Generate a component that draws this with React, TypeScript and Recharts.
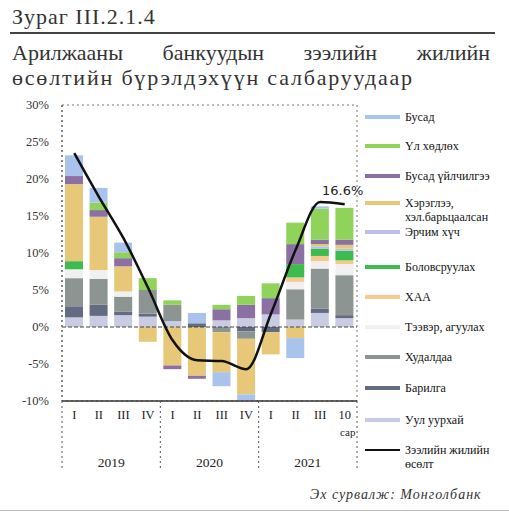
import React from 'react';
import { ComposedChart, Bar, Line, XAxis, YAxis, ReferenceLine, ReferenceArea, LabelList } from 'recharts';

// quarters and years on the x axis
const QUARTERS = ['I', 'II', 'III', 'IV', 'I', 'II', 'III', 'IV', 'I', 'II', 'III', '10 сар'];
const YEARS = ['2019', '2019', '2019', '2019', '2020', '2020', '2020', '2020', '2021', '2021', '2021', '2021'];

// total loan growth, %
const GROWTH = [23.5, 17.6, 12.0, 5.3, -1.8, -4.5, -4.6, -5.7, 1.8, 10.4, 16.9, 16.6];

// sector contributions, percentage points (stack order bottom -> top)
const MINING = [1.3, 1.5, 1.6, 1.4, 0.8, 0, 0.9, 1.2, 1.7, 1.0, 1.9, 1.2];
const CONSTRUCTION = [1.5, 1.5, 0.5, 0.4, 0, 0.5, 0, -0.6, -0.7, 0, 0.6, 0.4];
const TRADE = [3.8, 3.5, 2.0, 3.2, 2.2, 0, -0.7, -1.0, 0, 4.1, 5.4, 5.4];
const TRANSPORT = [1.2, 1.2, 0.7, 0, 0, 0, 0, 0, 0, 1.0, 1.0, 1.5];
const AGRI = [0, 0, 0, 0, 0, 0, 0, 0, 0, 0.6, 0.7, 0.5];
const MANUF = [1.1, 0, 0, 0, 0, 0, 0, 0, 0, 1.8, 1.0, 1.3];
const ENERGY = [0, 0, 0, 0, 0, 0, 0, 0, 0, 0, 0.3, 0.3];
const CONSUMER = [10.4, 7.2, 3.4, -2.0, -5.2, -6.6, -5.4, -7.5, -3.0, -1.5, 0.3, 0.5];
const OTHER_SERV = [1.1, 0.9, 1.1, 0, -0.5, -0.4, 1.5, 1.8, 2.2, 2.7, 0.6, 0.7];
const REAL_ESTATE = [0, 1.0, 0.8, 1.6, 0.6, 0, 0.6, 1.2, 2.0, 2.9, 4.2, 4.3];
const OTHER = [2.8, 2.0, 1.3, 0, 0, 1.4, -1.9, -0.8, 0, -2.7, 0.3, 0];

const Y_TICKS = [-10, -5, 0, 5, 10, 15, 20, 25, 30];

const SERIES = [
  { key: 'mining', name: 'Уул уурхай', color: '#c8cbe2', values: MINING },
  { key: 'construction', name: 'Барилга', color: '#626b80', values: CONSTRUCTION },
  { key: 'trade', name: 'Худалдаа', color: '#8d9592', values: TRADE },
  { key: 'transport', name: 'Тээвэр, агуулах', color: '#f0f0f0', values: TRANSPORT },
  { key: 'agri', name: 'ХАА', color: '#f6c98c', values: AGRI },
  { key: 'manuf', name: 'Боловсруулах', color: '#3dbb4f', values: MANUF },
  { key: 'energy', name: 'Эрчим хүч', color: '#b8c2e8', values: ENERGY },
  { key: 'consumer', name: 'Хэрэглээ,\nхэл.барьцаалсан', color: '#e6c878', values: CONSUMER },
  { key: 'otherServ', name: 'Бусад үйлчилгээ', color: '#8c6fa3', values: OTHER_SERV },
  { key: 'realEstate', name: 'Үл хөдлөх', color: '#8fd35a', values: REAL_ESTATE },
  { key: 'other', name: 'Бусад', color: '#a9c3ec', values: OTHER },
];

const data = QUARTERS.map((q, i) => {
  const row: any = { id: i, label: q, year: YEARS[i], growth: GROWTH[i] };
  SERIES.forEach((s) => { row[s.key] = s.values[i]; });
  return row;
});

const W = 509;
const H = 517;
const PLOT_LEFT = 62;
const PLOT_RIGHT = 357;
const STEP = (PLOT_RIGHT - PLOT_LEFT) / QUARTERS.length;
const SERIF = '"Liberation Serif", "DejaVu Serif", serif';

function QuarterTick({ x, y, index }: any) {
  const parts = QUARTERS[index].split(' ');
  const firstOfYear = index === 0 || YEARS[index - 1] !== YEARS[index];
  const last = index === QUARTERS.length - 1;
  const groupStart = YEARS.indexOf(YEARS[index]);
  const groupLen = YEARS.filter((yr) => yr === YEARS[index]).length;
  const showYear = index === groupStart + Math.floor((groupLen - 1) / 2);
  const dash = { stroke: '#555', strokeWidth: 1, strokeDasharray: '2 3' };
  return (
    <g>
      <text x={x} y={y + 18} textAnchor="middle" fontFamily={SERIF} fontSize={12.5} fill="#222">{parts[0]}</text>
      {parts[1] && (
        <text x={x + 3} y={y + 35} textAnchor="middle" fontFamily={SERIF} fontSize={11} fill="#222">{parts[1]}</text>
      )}
      {firstOfYear && <line x1={x - STEP / 2} x2={x - STEP / 2} y1={y} y2={y + 70} {...dash} />}
      {last && <line x1={x + STEP / 2} x2={x + STEP / 2} y1={y} y2={y + 70} {...dash} />}
      {showYear && (
        <text x={x + (groupLen % 2 === 0 ? STEP / 2 : 0)} y={y + 66} textAnchor="middle" fontFamily={SERIF} fontSize={13.5} fill="#222">
          {YEARS[index]}
        </text>
      )}
    </g>
  );
}

function LastLabel({ x, y, value, index }: any) {
  if (index !== GROWTH.length - 1) return null;
  return (
    <text x={x - 2} y={y - 9} textAnchor="middle" fontFamily='"DejaVu Sans", sans-serif' fontSize={13} fill="#222">
      {`${Number(value).toFixed(1)}%`}
    </text>
  );
}

const LEGEND_Y = [420, 388, 357, 327, 297, 267, 232, 203, 176, 146, 117];

function SideLegend() {
  return (
    <div>
      {SERIES.map((s, i) => (
        <div key={s.key} style={{ position: 'absolute', left: 365, top: LEGEND_Y[i] - 7, display: 'flex', alignItems: 'flex-start' }}>
          <div style={{ width: 35, height: 4, background: s.color, marginTop: 5 }} />
          <div style={{ marginLeft: 5, fontFamily: SERIF, fontSize: 12, lineHeight: '14px', color: '#111', whiteSpace: 'pre' }}>{s.name}</div>
        </div>
      ))}
      <div style={{ position: 'absolute', left: 365, top: 443, display: 'flex', alignItems: 'flex-start' }}>
        <div style={{ width: 35, height: 2, background: '#111', marginTop: 6 }} />
        <div style={{ marginLeft: 5, fontFamily: SERIF, fontSize: 12, lineHeight: '14px', color: '#111', whiteSpace: 'pre' }}>{'Зээлийн жилийн\nөсөлт'}</div>
      </div>
    </div>
  );
}

export default function App() {
  return (
    <div style={{ position: 'absolute', left: 0, top: 0, width: W, height: H, background: '#fff', overflow: 'hidden', fontFamily: SERIF }}>
      <div style={{ position: 'absolute', left: 12, top: 4, fontSize: 22, letterSpacing: 1, color: '#333' }}>Зураг III.2.1.4</div>
      <div style={{ position: 'absolute', left: 10, top: 32, width: 485, height: 2, background: '#444' }} />
      <div style={{ position: 'absolute', left: 12, top: 40, width: 478, fontSize: 22, lineHeight: '25px', color: '#333', textAlign: 'justify', textAlignLast: 'justify' }}>
        Арилжааны банкуудын зээлийн жилийн
      </div>
      <div style={{ position: 'absolute', left: 12, top: 65, fontSize: 22, lineHeight: '25px', color: '#333', letterSpacing: 1.8 }}>
        өсөлтийн бүрэлдэхүүн салбаруудаар
      </div>

      <div style={{ position: 'absolute', left: 0, top: 0 }}>
        <ComposedChart width={W} height={H} data={data} stackOffset="sign" barSize={18}
          margin={{ top: 105, right: W - PLOT_RIGHT, bottom: 40, left: 0 }}>
          <ReferenceArea y1={-10} y2={30} fill="none" stroke="#777" strokeDasharray="2 3" />
          <XAxis dataKey="id" height={76} tickLine={false} tickSize={0} tickMargin={0} interval={0}
            axisLine={{ stroke: '#333', strokeWidth: 1.5 }} tick={<QuarterTick />} />
          <YAxis width={PLOT_LEFT} domain={[-10, 30]} ticks={Y_TICKS} tickLine={false} tickMargin={7}
            axisLine={{ stroke: '#555', strokeDasharray: '2 3' }}
            tickFormatter={(v: number) => `${v}%`}
            tick={{ fontFamily: SERIF, fontSize: 12.5, fill: '#333' }} />
          {SERIES.map((s) => (
            <Bar key={s.key} dataKey={s.key} stackId="a" fill={s.color} isAnimationActive={false} />
          ))}
          <ReferenceLine y={0} stroke="#444" strokeDasharray="4 2" />
          <Line dataKey="growth" type="monotone" stroke="#111" strokeWidth={2.5} dot={false} isAnimationActive={false}>
            <LabelList dataKey="growth" content={<LastLabel />} />
          </Line>
        </ComposedChart>
      </div>

      <SideLegend />

      <div style={{ position: 'absolute', left: 310, top: 487, fontSize: 14, fontStyle: 'italic', letterSpacing: 1, color: '#333' }}>
        Эх сурвалж: Монголбанк
      </div>
      <div style={{ position: 'absolute', left: 0, top: 510, width: W, height: 1, background: '#bbb' }} />
    </div>
  );
}
